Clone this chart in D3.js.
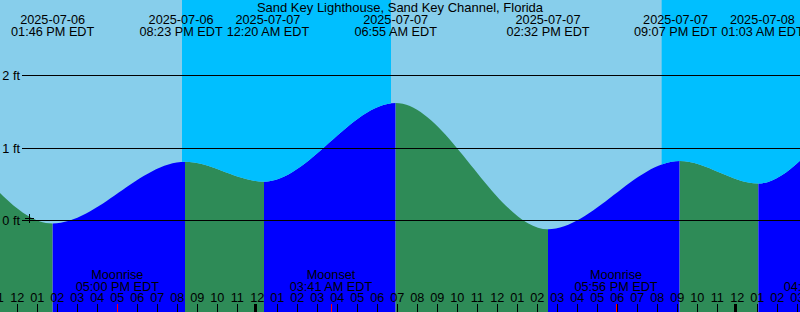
<!DOCTYPE html>
<html>
<head>
<meta charset="utf-8">
<script src="https://cdn.jsdelivr.net/npm/d3@7"></script>
<style>
  html, body { margin: 0; padding: 0; background: #fff; }
  svg { display: block; }
  text { font-family: "Liberation Sans", Arial, sans-serif; fill: #000; }
</style>
</head>
<body>
<script>
// ---------------- data ----------------
const title = "Sand Key Lighthouse, Sand Key Channel, Florida";
const viewStart = "2025-07-06 11:08";
const viewEnd = "2025-07-08 03:08";

// tide extremes (the first two and last two lie outside the view)
const tideTimes = ["2025-07-06 00:40", "2025-07-06 05:49", "2025-07-06 13:46", "2025-07-06 20:23",
                   "2025-07-07 00:20", "2025-07-07 06:55", "2025-07-07 14:32", "2025-07-07 21:07",
                   "2025-07-08 01:03", "2025-07-08 06:55", "2025-07-08 15:10"];
const tideHeights = [0.55, 1.60, -0.04, 0.81, 0.535, 1.62, -0.12, 0.82, 0.51, 1.60, -0.15];

// sun
const sunsetTimes = ["2025-07-06 20:14", "2025-07-07 20:13"];
const sunriseTimes = ["2025-07-07 06:41", "2025-07-08 06:42"];

// moon
const moonTimes = ["2025-07-06 17:00", "2025-07-07 03:41", "2025-07-07 17:56", "2025-07-08 04:23"];
const moonTypes = ["Moonrise", "Moonset", "Moonrise", "Moonset"];

// axis
const levelTicks = [0, 1, 2];
const levelUnit = "ft";
const markTime = "2025-07-06 12:36";
const markLevel = 0;

// ---------------- colours ----------------
const C = { day: "#87ceeb", night: "#00bfff", rising: "#0000ff", falling: "#2e8b57", moonTick: "#ff0000" };

// ---------------- setup ----------------
const W = 800, H = 312;
const parse = d3.utcParse("%Y-%m-%d %H:%M");
const fmtDate = d3.utcFormat("%Y-%m-%d");
const fmtTime = d3.utcFormat("%I:%M %p EDT");
const fmtHour = d3.utcFormat("%I");

const t0 = parse(viewStart), t1 = parse(viewEnd);
const tides = tideTimes.map((s, i) => ({ t: parse(s), h: tideHeights[i] }));

const x = d3.scaleUtc().domain([t0, t1]).range([0, W]);
const y = d3.scaleLinear().domain([0, 2]).range([220.5, 75.5]);

const svg = d3.select("body").append("svg").attr("width", W).attr("height", H);

// tide phase bands (rising / falling) below the curve
for (let i = 0; i < tides.length - 1; i++) {
  svg.append("rect")
    .attr("x", x(tides[i].t)).attr("y", 0)
    .attr("width", x(tides[i + 1].t) - x(tides[i].t)).attr("height", H)
    .attr("fill", tides[i + 1].h > tides[i].h ? C.rising : C.falling);
}

// sky above the curve
const skyArea = d3.area()
  .x(d => x(d.t)).y0(-5).y1(d => y(d.h))
  .curve(d3.curveMonotoneX);
svg.append("clipPath").attr("id", "sky").append("path").attr("d", skyArea(tides));
const sky = svg.append("g").attr("clip-path", "url(#sky)");
sky.append("rect").attr("x", 0).attr("y", 0).attr("width", W).attr("height", H).attr("fill", C.day);
sunsetTimes.forEach((s, i) => {
  const a = x(parse(s)), b = x(parse(sunriseTimes[i]));
  sky.append("rect").attr("x", a).attr("y", 0).attr("width", b - a).attr("height", H).attr("fill", C.night);
});

// level grid lines + labels
levelTicks.forEach(v => {
  svg.append("line")
    .attr("x1", 22).attr("x2", W).attr("y1", y(v)).attr("y2", y(v))
    .attr("stroke", "#000").attr("stroke-width", 1).attr("shape-rendering", "crispEdges");
  svg.append("text")
    .attr("x", 20).attr("y", y(v) + 4.5)
    .attr("text-anchor", "end").attr("font-size", 12.7)
    .text(v + " " + levelUnit);
});

// plus mark
{
  const mx = Math.floor(x(parse(markTime))) + 0.5, my = y(markLevel) - 2;
  svg.append("path")
    .attr("d", `M${mx - 4.5},${my}H${mx + 4.5}M${mx},${my - 4.5}V${my + 4.5}`)
    .attr("stroke", "#000").attr("stroke-width", 1).attr("shape-rendering", "crispEdges");
}

// title
svg.append("text").attr("x", W / 2).attr("y", 12).attr("text-anchor", "middle")
  .attr("font-size", 13).text(title);

// tide event labels at top, pushed apart when they would overlap
const visTides = tides.filter(d => d.t >= t0 && d.t <= t1);
const lab = visTides.map(d => {
  const g = svg.append("g");
  const dt = g.append("text").attr("y", 24).attr("text-anchor", "middle").attr("font-size", 12.7).text(fmtDate(d.t));
  const tt = g.append("text").attr("y", 36).attr("text-anchor", "middle").attr("font-size", 12.7).text(fmtTime(d.t));
  const w = Math.max(dt.node().getComputedTextLength(), tt.node().getComputedTextLength());
  return { g, cx: x(d.t), w };
});
for (let pass = 0; pass < 5; pass++) {
  for (let i = 0; i < lab.length - 1; i++) {
    const need = (lab[i].w + lab[i + 1].w) / 2 + 4;
    const gap = lab[i + 1].cx - lab[i].cx;
    if (gap < need) {
      const s = (need - gap) / 2;
      lab[i].cx -= s; lab[i + 1].cx += s;
    }
  }
}
lab.forEach(l => l.g.selectAll("text").attr("x", l.cx));

// hour ticks + labels
const hours = d3.utcHour.range(d3.utcHour.floor(t0), d3.utcHour.offset(t1, 1));
hours.forEach(h => {
  const hx = x(h);
  if (h.getUTCHours() === 0) {
    svg.append("rect").attr("x", hx - 3).attr("y", 304).attr("width", 3).attr("height", 8)
      .attr("fill", "#000").attr("shape-rendering", "crispEdges");
  } else {
    svg.append("line").attr("x1", hx).attr("x2", hx).attr("y1", 304).attr("y2", H)
      .attr("stroke", "#000").attr("stroke-width", 1).attr("shape-rendering", "crispEdges");
  }
  svg.append("text").attr("x", hx).attr("y", 301.5).attr("text-anchor", "middle")
    .attr("font-size", 12.7).text(fmtHour(h));
});

// moon events
moonTimes.forEach((s, i) => {
  const t = parse(s), mx = x(t);
  svg.append("line").attr("x1", mx).attr("x2", mx).attr("y1", 304).attr("y2", H)
    .attr("stroke", C.moonTick).attr("stroke-width", 1).attr("shape-rendering", "crispEdges");
  svg.append("text").attr("x", mx).attr("y", 278.5).attr("text-anchor", "middle")
    .attr("font-size", 12.7).text(moonTypes[i]);
  svg.append("text").attr("x", mx).attr("y", 291).attr("text-anchor", "middle")
    .attr("font-size", 12.7).text(fmtTime(t));
});
</script>
</body>
</html>
